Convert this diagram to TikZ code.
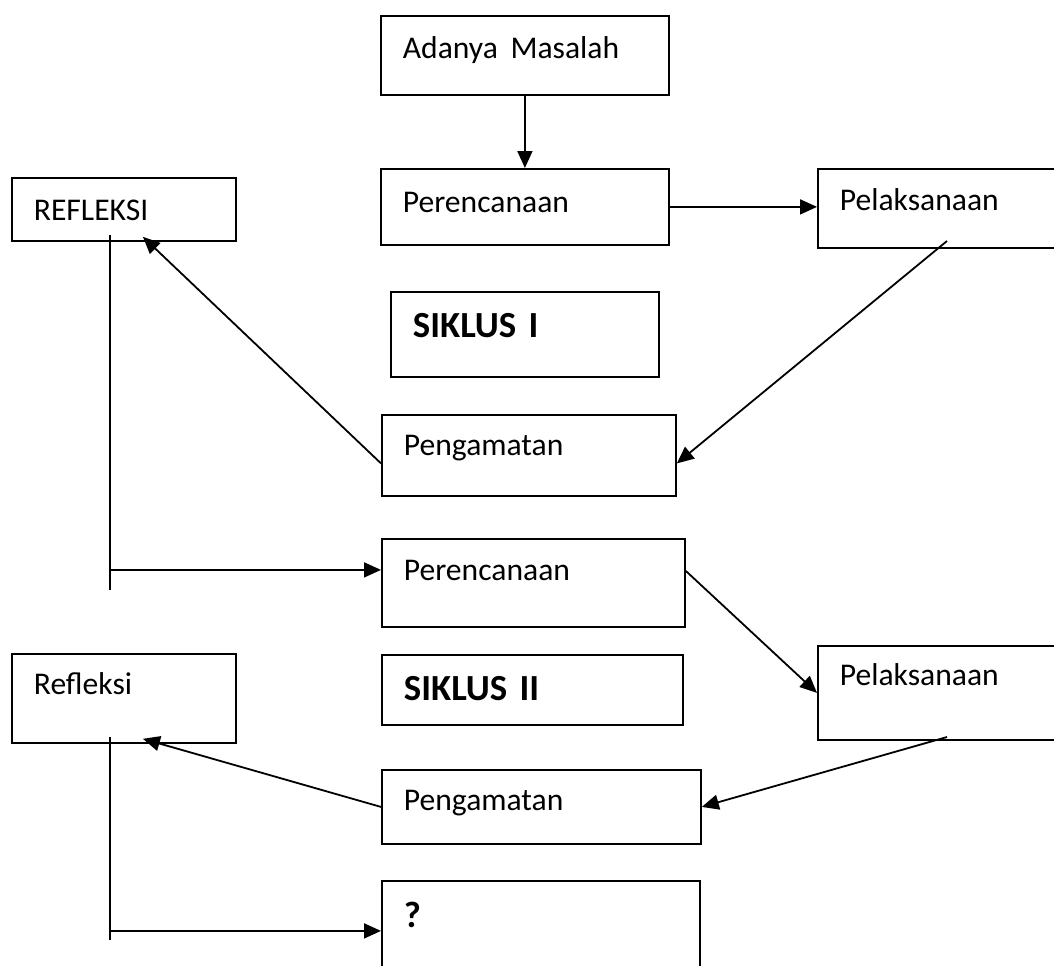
\documentclass[tikz,border=0pt]{standalone}
\usepackage{fontspec}
\setmainfont{Carlito}
\usetikzlibrary{arrows.meta}
\newcommand{\lbl}{\fontsize{15.8}{19}\selectfont}
\newcommand{\lblb}{\fontsize{18.4}{22}\selectfont\bfseries}

\begin{document}
\begin{tikzpicture}[x=0.5pt, y=-0.5pt,
    box/.style n args={3}{draw, line width=0.9pt, anchor=north west, inner xsep=11pt, inner ysep=0pt, align=left, font=\lbl, text width=#1, text height=#2, text depth=#3},
    conn/.style={line width=0.9pt},
    arr/.style={-{Triangle[length=8.5pt, width=7.5pt]}, line width=0.9pt}
]
\useasboundingbox (0,0) rectangle (1054,965);
\clip (0,0) rectangle (1054,965);

% siklus I
\node[box={122pt}{21.5pt}{18pt}] (masalah) at (380,15) {Adanya\hspace{0.4em}Masalah};
\node[box={122pt}{22pt}{16pt}] (rencana1) at (380,168) {Perencanaan};
\node[box={120pt}{21pt}{18.5pt}] (laksana1) at (817,168) {Pelaksanaan};
\node[box={112pt}{23pt}{19.5pt}, font=\lblb] (siklus1) at (390,291) {SIKLUS I};
\node[box={125pt}{20.5pt}{20pt}] (peng1) at (381,414) {Pengamatan};
\node[box={90pt}{21.5pt}{10pt}] (refleksi1) at (11,177) {REFLEKSI};

% siklus II
\node[box={129.5pt}{21pt}{23pt}] (rencana2) at (381,538) {Perencanaan};
\node[box={128.5pt}{23pt}{12pt}, font=\lblb] (siklus2) at (381,654) {SIKLUS II};
\node[box={120pt}{20pt}{27pt}] (laksana2) at (817,645) {Pelaksanaan};
\node[box={137.5pt}{20.5pt}{16.5pt}] (peng2) at (381,769) {Pengamatan};
\node[box={90pt}{20.5pt}{24pt}] (refleksi2) at (11,653) {Refleksi};
\node[box={137pt}{23.5pt}{26.5pt}, font=\lblb] (tanya) at (381,880) {?};

\coordinate (l1out) at (947,241);
\coordinate (l2out) at (947,737);
\coordinate (backA) at (110,235);
\coordinate (backA end) at (110,590);
\coordinate (backB) at (110,737);
\coordinate (backB end) at (110,940);
\coordinate (r2in) at ([yshift=6.5pt]rencana2.west);

\draw[arr] (masalah) -- (rencana1);
\draw[arr] (rencana1.east) -- (laksana1.west |- rencana1.east);
\draw[arr] (l1out) -- ([yshift=-4pt]peng1.east);
\draw[arr] ([yshift=-4pt]peng1.west) -- ([xshift=9.5pt,yshift=2.5pt]refleksi1.south);
\draw[conn] (backA) -- (backA end);
\draw[arr] (backA |- r2in) -- (r2in);

\draw[arr] ([yshift=6pt]rencana2.east) -- (laksana2.west);
\draw[arr] (l2out) -- (peng2.east);
\draw[arr] (peng2.west) -- ([xshift=9.5pt,yshift=2.5pt]refleksi2.south);
\draw[conn] (backB) -- (backB end);
\draw[arr] (backB |- tanya.west) -- (tanya.west);
\end{tikzpicture}
\end{document}
